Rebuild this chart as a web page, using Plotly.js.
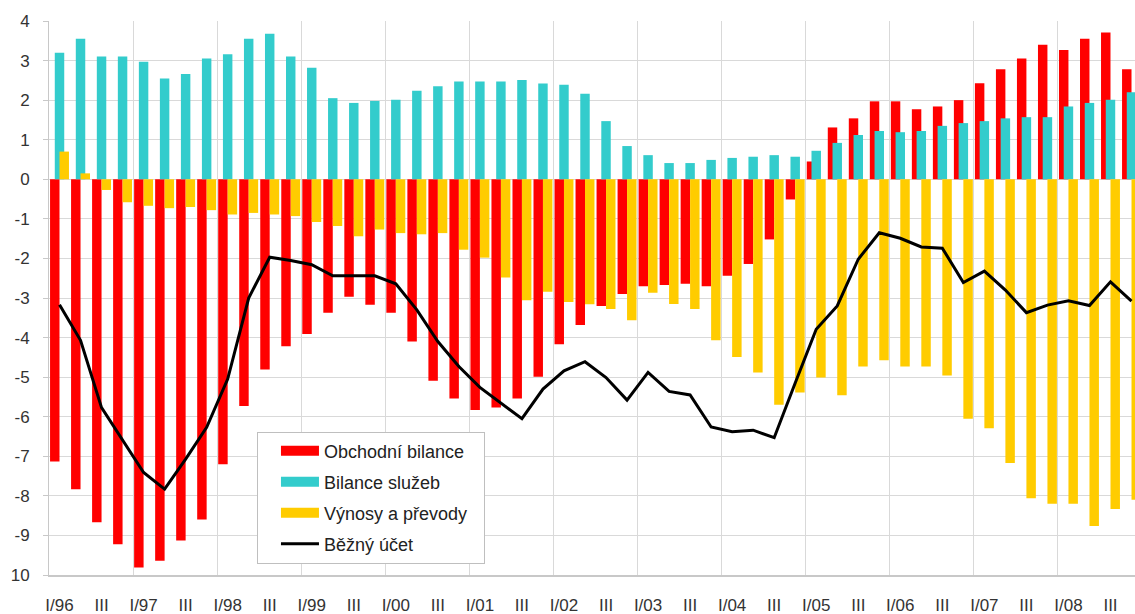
<!DOCTYPE html>
<html><head><meta charset="utf-8">
<script src="https://cdn.plot.ly/plotly-3.0.1.min.js"></script>
<style>html,body{margin:0;padding:0;background:#fff}#chart{width:1135px;height:614px}</style>
</head><body><div id="chart"></div>
<script>
// Years and quarters
const years = ['96','97','98','99','00','01','02','03','04','05','06','07','08'];
const quarterNames = ['I','II','III','IV'];

// Obchodní bilance (red)
const trade = [-7.13,-7.83,-8.67,-9.22, -9.81,-9.64,-9.13,-8.60, -7.20,-5.73,-4.81,-4.22,
  -3.91,-3.37,-2.97,-3.17, -3.37,-4.10,-5.09,-5.54, -5.83,-5.77,-5.54,-4.99,
  -4.17,-3.68,-3.20,-2.90, -2.70,-2.67,-2.64,-2.70, -2.44,-2.14,-1.52,-0.51,
  0.45,1.31,1.54,1.97, 1.97,1.77,1.84,2.00, 2.43,2.78,3.05,3.40, 3.27,3.55,3.71,2.78];

// Bilance služeb (cyan)
const services = [3.20,3.55,3.10,3.10, 2.97,2.55,2.66,3.05, 3.16,3.55,3.68,3.10,
  2.82,2.05,1.93,1.98, 2.01,2.24,2.35,2.47, 2.47,2.47,2.51,2.42,
  2.39,2.16,1.47,0.84, 0.61,0.41,0.41,0.49, 0.54,0.57,0.61,0.57,
  0.72,0.92,1.12,1.22, 1.19,1.22,1.35,1.42, 1.47,1.54,1.57,1.57, 1.84,1.93,2.01,2.20];

// Výnosy a převody (yellow)
const income = [0.70,0.15,-0.27,-0.58, -0.67,-0.73,-0.70,-0.78, -0.89,-0.85,-0.89,-0.93,
  -1.08,-1.18,-1.44,-1.27, -1.36,-1.39,-1.36,-1.78, -1.98,-2.48,-3.06,-2.84,
  -3.10,-3.16,-3.28,-3.56, -2.87,-3.15,-3.28,-4.07, -4.49,-4.88,-5.70,-5.39,
  -5.01,-5.46,-4.73,-4.57, -4.73,-4.73,-4.96,-6.05, -6.29,-7.17,-8.06,-8.20, -8.20,-8.76,-8.33,-8.10];

// Běžný účet (black line)
const current = [-3.17,-4.07,-5.77,-6.60, -7.41,-7.83,-7.07,-6.27, -5.05,-3.00,-1.97,-2.05,
  -2.16,-2.44,-2.44,-2.44, -2.64,-3.30,-4.10,-4.73, -5.26,-5.65,-6.05,-5.30,
  -4.84,-4.61,-5.01,-5.58, -4.88,-5.36,-5.45,-6.26, -6.38,-6.34,-6.53,-5.15,
  -3.79,-3.20,-2.02,-1.35, -1.49,-1.71,-1.74,-2.61, -2.32,-2.80,-3.37,-3.18, -3.07,-3.19,-2.59,-3.08];

const seriesNames = ['Obchodní bilance','Bilance služeb','Výnosy a převody','Běžný účet'];
const seriesColors = ['#FF0000','#33CCCC','#FFCC00','#000000'];

const yTickVals = [-10,-9,-8,-7,-6,-5,-4,-3,-2,-1,0,1,2,3,4];
const yTickText = ['10','-9','-8','-7','-6','-5','-4','-3','-2','-1','0','1','2','3','4'];

// derived
const quarterLabels = [];
years.forEach(y => quarterNames.forEach(q => quarterLabels.push(q + '/' + y)));
const xIdx = quarterLabels.map((_, i) => i);
const tickVals = xIdx.filter(i => i % 2 === 0);
const tickText = tickVals.map(i => (i % 4 === 0 ? 'I/' + years[i / 4] : 'III'));
const yearBounds = years.map((_, j) => j * 4 - 0.5);

const FONT = 'Liberation Sans, Arial, sans-serif';
const BW = 0.45;

const data = [
  {type:'bar', x:xIdx, y:trade, width:BW, offset:-BW, marker:{color:seriesColors[0], line:{width:0}}, showlegend:false, hoverinfo:'skip'},
  {type:'bar', x:xIdx, y:services, width:BW, offset:-BW/2, marker:{color:seriesColors[1], line:{width:0}}, showlegend:false, hoverinfo:'skip'},
  {type:'bar', x:xIdx, y:income, width:BW, offset:0, marker:{color:seriesColors[2], line:{width:0}}, showlegend:false, hoverinfo:'skip'},
  {type:'scatter', mode:'lines', x:xIdx, y:current, line:{color:seriesColors[3], width:3}, name:seriesNames[3], legendgroup:'d', legendrank:4, showlegend:true},
  {type:'scatter', mode:'lines', x:[null], y:[null], line:{color:seriesColors[0], width:13}, name:seriesNames[0], legendgroup:'a', legendrank:1},
  {type:'scatter', mode:'lines', x:[null], y:[null], line:{color:seriesColors[1], width:13}, name:seriesNames[1], legendgroup:'b', legendrank:2},
  {type:'scatter', mode:'lines', x:[null], y:[null], line:{color:seriesColors[2], width:13}, name:seriesNames[2], legendgroup:'c', legendrank:3}
];

const layout = {
  width:1135, height:614,
  margin:{l:49, r:0, t:21, b:39, pad:0},
  paper_bgcolor:'#fff', plot_bgcolor:'#fff',
  barmode:'overlay',
  showlegend:true,
  legend:{x:0.1915, y:0.2590, xanchor:'left', yanchor:'top', bgcolor:'#fff',
    bordercolor:'#bfbfbf', borderwidth:1, tracegroupgap:4.6, itemwidth:56,
    font:{family:FONT, size:18, color:'#222'}},
  xaxis:{range:[-0.5, 51.166], tickmode:'array', tickvals:tickVals, ticktext:tickText,
    showgrid:false, zeroline:false, showline:true, linecolor:'#c8c8c8', linewidth:2,
    ticks:'', tickfont:{family:FONT, size:17, color:'#333'}, ticklabelstandoff:14, fixedrange:true,
    minor:{tickmode:'array', tickvals:yearBounds, showgrid:true, gridcolor:'#d9d9d9', gridwidth:1, ticks:''}},
  yaxis:{range:[-10, 4], tickmode:'array', tickvals:yTickVals, ticktext:yTickText,
    showgrid:true, gridcolor:'#d9d9d9', gridwidth:1, zeroline:false, showline:true,
    linecolor:'#c8c8c8', linewidth:1, ticks:'outside', ticklen:5, tickcolor:'#c8c8c8',
    tickfont:{family:FONT, size:17, color:'#333'}, ticklabelstandoff:10, fixedrange:true}
};

Plotly.newPlot('chart', data, layout, {displayModeBar:false, staticPlot:true}).then(function(gd){
  // widen legend swatches and box to match the original legend style
  gd.querySelectorAll('.legend .traces path.js-line').forEach(function(p){
    p.setAttribute('d', 'M23,0h38');
  });
  gd.querySelectorAll('.legend rect.bg').forEach(function(r){
    var w = parseFloat(r.getAttribute('width'));
    if (w) r.setAttribute('width', Math.max(w, 227));
  });
});
</script></body></html>
